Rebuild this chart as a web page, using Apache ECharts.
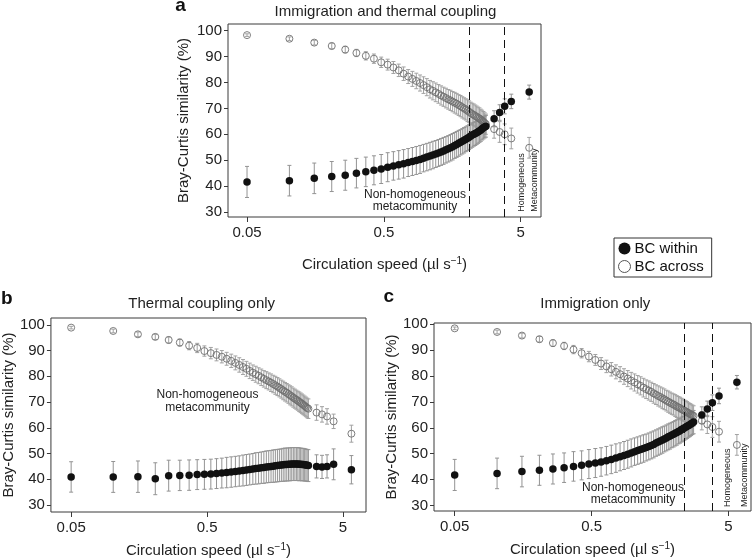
<!DOCTYPE html>
<html><head><meta charset="utf-8">
<script src="https://cdn.jsdelivr.net/npm/echarts@6/dist/echarts.min.js"></script>
<style>html,body{margin:0;padding:0;background:#fff}#c{width:752px;height:559px}</style>
</head><body><div id="c"></div>
<script>
// ---------- data ----------
const speed = [0.050,0.102,0.155,0.208,0.261,0.315,0.369,0.423,0.478,0.533,
 0.587,0.642,0.697,0.753,0.808,0.863,0.919,0.974,1.030,1.086,
 1.141,1.197,1.253,1.309,1.365,1.421,1.478,1.534,1.590,1.647,
 1.703,1.760,1.816,1.872,1.929,1.986,2.042,2.099,2.156,2.213,
 2.270,2.327,2.384,2.441,2.497,2.554,2.612,2.669,2.726,2.783,
 3.196,3.506,3.817,4.267,5.766];

const aWithin = [41.6,42.1,43.0,43.7,44.2,45.0,45.5,46.1,46.6,47.3,
 47.8,48.2,48.6,49.1,49.5,49.9,50.3,50.8,51.2,51.6,
 52.0,52.4,52.8,53.2,53.6,54.0,54.4,54.8,55.2,55.7,
 56.1,56.5,56.9,57.3,57.7,58.1,58.5,58.9,59.3,59.7,
 60.0,60.3,60.6,61.0,61.3,61.7,62.1,62.5,62.8,63.1,
 66.0,68.4,70.8,72.7,76.3];
const aWithinErr = [6.0,5.9,5.9,5.8,5.8,5.7,5.7,5.6,5.6,5.6,
 5.5,5.5,5.5,5.4,5.4,5.4,5.4,5.3,5.3,5.3,
 5.3,5.2,5.2,5.2,5.2,5.1,5.1,5.1,5.1,5.0,
 5.0,5.0,4.9,4.9,4.9,4.8,4.8,4.8,4.7,4.7,
 4.6,4.6,4.5,4.5,4.4,4.4,4.3,4.3,4.2,4.2,
 3.1,3.0,2.9,2.8,2.7];
const aAcross = [98.3,96.9,95.4,94.1,92.7,91.4,90.3,89.2,87.8,86.9,
 85.8,84.7,83.4,82.3,81.4,80.6,79.8,79.0,78.2,77.4,
 76.8,76.2,75.6,75.0,74.5,74.0,73.5,73.1,72.6,72.2,
 71.8,71.3,70.9,70.4,70.0,69.6,69.1,68.7,68.2,67.8,
 67.5,67.1,66.8,66.4,66.1,65.7,65.3,64.8,64.4,63.9,
 62.0,60.9,60.0,58.4,54.8];
const aAcrossErr = [0.5,0.7,0.9,1.1,1.3,1.4,1.6,1.8,2.0,2.1,
 2.3,2.4,2.6,2.7,2.9,3.0,3.1,3.2,3.3,3.4,
 3.5,3.6,3.6,3.7,3.7,3.8,3.8,3.9,3.9,4.0,
 4.0,4.0,4.1,4.1,4.1,4.1,4.2,4.2,4.2,4.2,
 4.2,4.2,4.1,4.1,4.1,4.0,4.0,4.0,3.9,3.9,
 3.5,4.0,4.0,4.0,4.0];

const bWithin = [40.9,40.9,41.0,40.2,41.4,41.5,41.6,41.8,41.9,42.0,
 42.2,42.4,42.6,42.8,43.0,43.2,43.4,43.6,43.8,44.0,
 44.2,44.3,44.5,44.6,44.8,44.9,45.0,45.1,45.2,45.3,
 45.4,45.5,45.6,45.7,45.7,45.8,45.8,45.9,45.9,45.9,
 45.9,45.9,45.8,45.8,45.7,45.7,45.6,45.5,45.4,45.3,
 45.0,44.8,45.0,45.8,43.7];
const bWithinErr = [5.9,6.0,6.1,6.2,6.0,5.9,5.9,5.8,5.8,5.8,
 5.8,5.8,5.9,5.9,5.9,5.9,6.0,6.0,6.0,6.0,
 6.1,6.1,6.1,6.2,6.2,6.2,6.2,6.3,6.3,6.3,
 6.3,6.3,6.4,6.4,6.4,6.4,6.4,6.4,6.4,6.4,
 6.4,6.4,6.4,6.3,6.3,6.3,6.3,6.2,6.2,6.2,
 4.5,4.5,4.5,6.0,5.5];
const bAcross = [98.9,97.6,96.3,95.3,94.1,93.1,91.9,91.0,89.8,89.0,
 88.3,87.6,86.8,86.0,85.2,84.4,83.6,82.9,82.1,81.4,
 80.8,80.2,79.6,79.0,78.5,78.0,77.5,77.0,76.5,76.0,
 75.5,75.0,74.5,74.0,73.6,73.1,72.6,72.2,71.7,71.3,
 70.9,70.5,70.1,69.7,69.3,68.9,68.5,68.1,67.7,67.4,
 65.9,65.2,64.4,62.5,57.7];
const bAcrossErr = [0.5,0.7,0.9,1.0,1.2,1.4,1.6,1.8,2.0,2.2,
 2.3,2.4,2.5,2.6,2.7,2.8,2.9,2.9,3.0,3.0,
 3.1,3.1,3.2,3.2,3.3,3.3,3.4,3.4,3.5,3.5,
 3.5,3.5,3.6,3.6,3.6,3.6,3.7,3.7,3.7,3.7,
 3.7,3.7,3.8,3.8,3.8,3.8,3.8,3.8,3.8,3.8,
 3.0,3.0,3.0,2.8,3.3];

const cWithin = [41.8,42.4,43.1,43.6,44.1,44.6,45.1,45.5,46.0,46.4,
 46.8,47.3,47.8,48.3,48.8,49.3,49.8,50.3,50.8,51.2,
 51.6,52.0,52.4,52.8,53.2,53.6,54.1,54.5,54.9,55.3,
 55.7,56.1,56.5,56.8,57.2,57.5,57.9,58.2,58.6,58.9,
 59.3,59.6,59.9,60.3,60.6,60.9,61.2,61.6,61.9,62.2,
 64.9,67.3,69.7,72.3,77.6];
const cWithinErr = [6.0,5.9,5.9,5.8,5.8,5.7,5.7,5.6,5.6,5.6,
 5.5,5.5,5.5,5.5,5.4,5.4,5.4,5.4,5.3,5.3,
 5.3,5.3,5.2,5.2,5.2,5.2,5.1,5.1,5.1,5.1,
 5.0,5.0,5.0,5.0,4.9,4.9,4.9,4.9,4.8,4.8,
 4.8,4.8,4.7,4.7,4.7,4.6,4.6,4.6,4.5,4.5,
 3.2,3.0,3.0,3.0,2.6];
const cAcross = [98.4,97.0,95.6,94.2,92.7,91.6,90.2,88.8,87.5,86.2,
 84.8,83.7,82.6,81.6,80.7,79.8,79.0,78.2,77.5,76.8,
 76.2,75.5,74.9,74.4,73.9,73.3,72.8,72.3,71.9,71.4,
 71.0,70.5,70.1,69.7,69.3,69.0,68.6,68.2,67.9,67.6,
 67.2,66.9,66.6,66.3,66.0,65.7,65.4,65.1,64.9,64.6,
 62.7,61.3,60.3,58.5,53.4];
const cAcrossErr = [0.5,0.7,0.9,1.1,1.3,1.4,1.6,1.8,2.0,2.1,
 2.3,2.4,2.6,2.7,2.9,3.0,3.1,3.2,3.3,3.4,
 3.5,3.6,3.6,3.7,3.7,3.8,3.8,3.9,3.9,4.0,
 4.0,4.0,4.1,4.1,4.1,4.1,4.2,4.2,4.2,4.2,
 4.2,4.2,4.1,4.1,4.1,4.0,4.0,4.0,3.9,3.9,
 3.5,3.5,4.0,4.0,4.0];

const xTicks = [0.05, 0.5, 5];
const yTicks = [30, 40, 50, 60, 70, 80, 90, 100];
const dashA = [2.12, 3.80];
const dashC = [2.36, 3.82];
const panelTitles = ['Immigration and thermal coupling', 'Thermal coupling only', 'Immigration only'];
const panelLetters = ['a', 'b', 'c'];
const legendNames = ['BC within', 'BC across'];
const yName = 'Bray-Curtis similarity (%)';

// ---------- chart ----------
const FONT = '"Liberation Sans", Arial, Helvetica, sans-serif';
const AX = '#3a3a3a';
const chart = echarts.init(document.getElementById('c'), null, {renderer: 'canvas'});

const grids = [
  {left: 228, top: 24, width: 313, height: 193},
  {left: 48, top: 318, width: 318, height: 194},
  {left: 434, top: 323, width: 317, height: 188}
];
const xRanges = [[0.0363, 7.035], [0.0355, 7.385], [0.0353, 7.31]];
const yRanges = [[28.07, 102.59], [27.28, 102.64], [27.88, 100.46]];
const xNameGaps = [39, 30, 30];
const yNameGaps = [37, 31, 32];

function xAxis(i) {
  return {
    type: 'log', logBase: 10, gridIndex: i, min: xRanges[i][0], max: xRanges[i][1],
    axisLine: {show: false},
    axisTick: {show: true, length: 5, customValues: xTicks, lineStyle: {color: AX, width: 1}},
    axisLabel: {customValues: xTicks, margin: 8, fontSize: 15, color: '#222', fontFamily: FONT,
      formatter: v => String(v)},
    splitLine: {show: false}, minorTick: {show: false},
    name: 'Circulation speed (\u00b5l s{sup|\u22121})', nameLocation: 'middle', nameGap: xNameGaps[i],
    nameTextStyle: {fontSize: 15, color: '#222', fontFamily: FONT,
      rich: {sup: {fontSize: 10, verticalAlign: 'top', fontFamily: FONT, color: '#222', padding: [0, 0, 7, 0]}}}
  };
}
function yAxis(i) {
  return {
    type: 'value', gridIndex: i, min: yRanges[i][0], max: yRanges[i][1],
    axisLine: {show: false},
    axisTick: {show: true, length: 4, customValues: yTicks, lineStyle: {color: AX, width: 1}},
    axisLabel: {customValues: yTicks, margin: 6, fontSize: 15, color: '#222', fontFamily: FONT},
    splitLine: {show: false},
    name: yName, nameLocation: 'middle', nameGap: yNameGaps[i], nameRotate: 90,
    nameTextStyle: {fontSize: 15, color: '#222', fontFamily: FONT}
  };
}

function errSeries(i, means, errs, color) {
  return {
    type: 'custom', xAxisIndex: i, yAxisIndex: i, z: 2, silent: true,
    data: speed.map((x, k) => [x, means[k] - errs[k], means[k] + errs[k]]),
    encode: {x: 0, y: [1, 2]},
    renderItem: function (params, api) {
      const lo = api.coord([api.value(0), api.value(1)]);
      const hi = api.coord([api.value(0), api.value(2)]);
      const w = 2;
      const st = {stroke: color, lineWidth: 1};
      return {type: 'group', children: [
        {type: 'line', shape: {x1: lo[0], y1: lo[1], x2: hi[0], y2: hi[1]}, style: st},
        {type: 'line', shape: {x1: lo[0] - w, y1: lo[1], x2: lo[0] + w, y2: lo[1]}, style: st},
        {type: 'line', shape: {x1: hi[0] - w, y1: hi[1], x2: hi[0] + w, y2: hi[1]}, style: st}
      ]};
    }
  };
}
function panelSeries(i, within, withinErr, across, acrossErr, dashes) {
  const out = [
    errSeries(i, across, acrossErr, '#a2a2a2'),
    errSeries(i, within, withinErr, '#939393'),
    {
      type: 'scatter', name: legendNames[1], xAxisIndex: i, yAxisIndex: i, z: 3,
      symbol: 'circle', symbolSize: 7,
      itemStyle: {color: 'rgba(255,255,255,0)', borderColor: '#6e6e6e', borderWidth: 0.9, opacity: 1},
      data: speed.map((x, k) => [x, across[k]])
    },
    {
      type: 'scatter', name: legendNames[0], xAxisIndex: i, yAxisIndex: i, z: 4,
      symbol: 'circle', symbolSize: 7.5,
      itemStyle: {color: '#111', opacity: 1},
      data: speed.map((x, k) => [x, within[k]])
    }
  ];
  if (dashes) {
    out[3].markLine = {
      silent: true, symbol: 'none', animation: false,
      label: {show: false},
      lineStyle: {type: [8, 5], color: '#111', width: 1},
      data: dashes.map(d => ({xAxis: d}))
    };
  }
  return out;
}

function txt(x, y, text, opt) {
  return Object.assign({type: 'text', x: x, y: y, silent: true,
    style: Object.assign({text: text, fill: '#222', font: '15px ' + FONT, align: 'center', verticalAlign: 'middle'}, (opt && opt.style) || {})},
    opt && opt.rotation !== undefined ? {rotation: opt.rotation} : {});
}

const graphics = [
  txt(385.5, 12, panelTitles[0]),
  txt(201.7, 303.5, panelTitles[1]),
  txt(595.3, 303.5, panelTitles[2]),
  txt(180.5, 6, panelLetters[0], {style: {font: 'bold 19px ' + FONT, fill: '#111'}}),
  txt(6.7, 298.5, panelLetters[1], {style: {font: 'bold 19px ' + FONT, fill: '#111'}}),
  txt(388.7, 297, panelLetters[2], {style: {font: 'bold 19px ' + FONT, fill: '#111'}}),
  txt(415, 200.7, 'Non-homogeneous\nmetacommunity', {style: {font: '12px ' + FONT, lineHeight: 12.5}}),
  txt(207.5, 401.3, 'Non-homogeneous\nmetacommunity', {style: {font: '12px ' + FONT, lineHeight: 12.5}}),
  txt(633, 493.5, 'Non-homogeneous\nmetacommunity', {style: {font: '12px ' + FONT, lineHeight: 12.5}}),
  txt(521.7, 211.7, 'Homogeneous', {rotation: Math.PI / 2, style: {font: '9px ' + FONT, align: 'left'}}),
  txt(534.3, 211.7, 'Metacommunity', {rotation: Math.PI / 2, style: {font: '9px ' + FONT, align: 'left'}}),
  txt(727.7, 507, 'Homogeneous', {rotation: Math.PI / 2, style: {font: '9px ' + FONT, align: 'left'}}),
  txt(745, 507, 'Metacommunity', {rotation: Math.PI / 2, style: {font: '9px ' + FONT, align: 'left'}})
];

chart.setOption({
  animation: false,
  backgroundColor: '#fff',
  textStyle: {fontFamily: FONT},
  grid: grids.map(g => Object.assign({show: true, borderColor: AX, borderWidth: 1, backgroundColor: 'transparent'}, g)),
  xAxis: [0, 1, 2].map(xAxis),
  yAxis: [0, 1, 2].map(yAxis),
  legend: {
    orient: 'vertical', left: 614, top: 238,
    data: [
      {name: legendNames[0], icon: 'circle', itemStyle: {color: '#111', borderWidth: 0}},
      {name: legendNames[1], icon: 'circle', itemStyle: {color: '#fff', borderColor: '#555', borderWidth: 1}}
    ],
    itemWidth: 12, itemHeight: 12, itemGap: 3,
    padding: [3, 8, 3, 4], borderColor: '#333', borderWidth: 1, borderRadius: 0,
    selectedMode: false,
    textStyle: {fontSize: 15, color: '#111', fontFamily: FONT, padding: [0, 0, 0, -1]}
  },
  series: [].concat(
    panelSeries(0, aWithin, aWithinErr, aAcross, aAcrossErr, dashA),
    panelSeries(1, bWithin, bWithinErr, bAcross, bAcrossErr, null),
    panelSeries(2, cWithin, cWithinErr, cAcross, cAcrossErr, dashC)
  ),
  graphic: graphics
});
</script>
</body></html>
